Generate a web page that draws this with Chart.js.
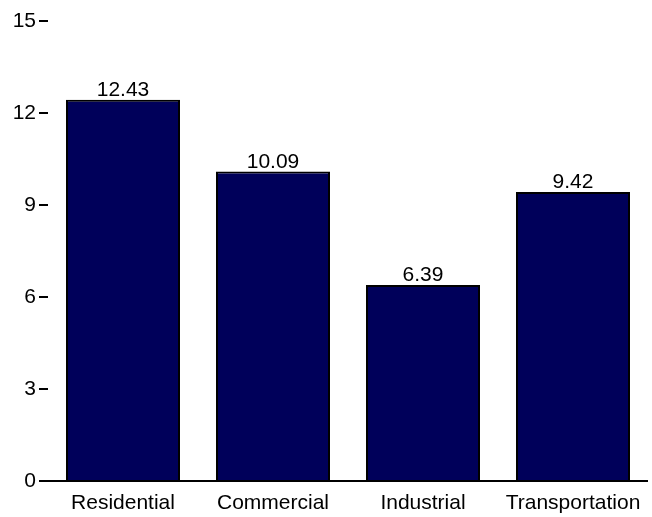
<!DOCTYPE html>
<html>
<head>
<meta charset="utf-8">
<script src="https://cdn.jsdelivr.net/npm/chart.js@4"></script>
<style>
  html, body { margin: 0; padding: 0; background: #fff; }
  #wrap { width: 652px; height: 517px; }
</style>
</head>
<body>
<div id="wrap"><canvas id="chart" width="652" height="517"></canvas></div>
<script>
// data
var sectors = ["Residential", "Commercial", "Industrial", "Transportation"];
var values = [12.43, 10.09, 6.39, 9.42];
var yTicks = [0, 3, 6, 9, 12, 15];

var FONT = "'Liberation Sans', Arial, sans-serif";

// value labels above bars + x axis line
var barLabels = {
  id: "barLabels",
  afterDatasetsDraw: function (chart) {
    var ctx = chart.ctx;
    var meta = chart.getDatasetMeta(0);
    ctx.save();
    ctx.font = "21px " + FONT;
    ctx.fillStyle = "#000";
    ctx.textAlign = "center";
    ctx.textBaseline = "alphabetic";
    meta.data.forEach(function (bar, i) {
      ctx.fillText(values[i].toFixed(2), bar.x, bar.y - 4);
    });
    // x axis line
    var area = chart.chartArea;
    ctx.strokeStyle = "#000";
    ctx.lineWidth = 2;
    ctx.beginPath();
    ctx.moveTo(39, area.bottom);
    ctx.lineTo(area.right, area.bottom);
    ctx.stroke();
    ctx.restore();
  },
};

var ctx = document.getElementById("chart").getContext("2d");
var chart = new Chart(ctx, {
  type: "bar",
  data: {
    labels: sectors,
    datasets: [
      {
        data: values,
        backgroundColor: "#00005a",
        borderColor: "#000",
        borderWidth: 2,
        barPercentage: 0.76,
        categoryPercentage: 1,
      },
    ],
  },
  options: {
    responsive: false,
    animation: false,
    layout: {
      padding: { top: 21, right: 4, bottom: 1, left: 0 },
    },
    plugins: {
      legend: { display: false },
      tooltip: { enabled: false },
    },
    scales: {
      x: {
        grid: { display: false, drawTicks: false },
        border: { display: false },
        afterFit: function (scale) {
          scale.height = 35;
        },
        ticks: {
          color: "#000",
          padding: 10,
          font: { size: 21, family: FONT },
        },
      },
      y: {
        min: 0,
        max: 15,
        afterFit: function (scale) {
          scale.width = 48;
        },
        afterBuildTicks: function (scale) {
          scale.ticks = yTicks.map(function (v) {
            return { value: v };
          });
        },
        grid: {
          drawOnChartArea: false,
          tickLength: 9,
          color: "#000",
          lineWidth: 2,
        },
        border: { display: false },
        ticks: {
          color: "#000",
          padding: 3,
          font: { size: 21, family: FONT },
        },
      },
    },
  },
  plugins: [barLabels],
});
</script>
</body>
</html>
